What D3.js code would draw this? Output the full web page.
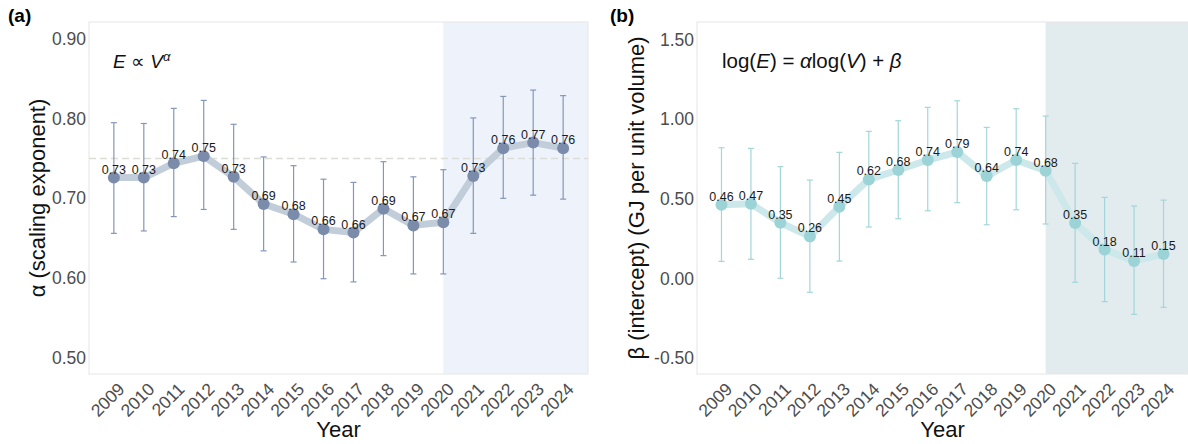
<!DOCTYPE html>
<html>
<head>
<meta charset="utf-8">
<script src="https://cdn.jsdelivr.net/npm/d3@7"></script>
<style>
  body { margin: 0; background: #fff; }
  text { font-family: "Liberation Sans", Arial, sans-serif; }
</style>
</head>
<body>
<svg id="chart" width="1188" height="444"></svg>
<script>
// years on the x axis
var years = [2009, 2010, 2011, 2012, 2013, 2014, 2015, 2016, 2017, 2018, 2019, 2020, 2021, 2022, 2023, 2024];

// (a) scaling exponent alpha with 95% interval
var alphaVals = [0.726, 0.726, 0.744, 0.753, 0.727, 0.693, 0.680, 0.661, 0.657, 0.687, 0.666, 0.670, 0.728, 0.763, 0.770, 0.763];
var alphaLo   = [0.656, 0.659, 0.677, 0.686, 0.661, 0.634, 0.620, 0.599, 0.595, 0.628, 0.605, 0.605, 0.656, 0.700, 0.704, 0.699];
var alphaHi   = [0.795, 0.794, 0.813, 0.823, 0.793, 0.752, 0.741, 0.724, 0.720, 0.746, 0.727, 0.736, 0.801, 0.828, 0.836, 0.829];
var alphaTicks = [0.5, 0.6, 0.7, 0.8, 0.9];
var alphaRef = 0.75;

// (b) intercept beta with 95% interval
var betaVals = [0.463, 0.469, 0.350, 0.264, 0.450, 0.622, 0.681, 0.744, 0.794, 0.643, 0.744, 0.677, 0.348, 0.181, 0.110, 0.153];
var betaLo   = [0.107, 0.120, 0.001, -0.087, 0.109, 0.323, 0.375, 0.425, 0.476, 0.337, 0.431, 0.342, -0.024, -0.146, -0.226, -0.182];
var betaHi   = [0.821, 0.817, 0.702, 0.618, 0.792, 0.924, 0.991, 1.075, 1.116, 0.949, 1.066, 1.020, 0.723, 0.509, 0.455, 0.492];
var betaTicks = [-0.5, 0, 0.5, 1.0, 1.5];

var shadeFrom = 2020;

var svg = d3.select("#chart");
var top_ = 22, bottom_ = 374;

function panel(cfg) {
  var g = svg.append("g").attr("class", cfg.cls);

  var x = d3.scalePoint().domain(years).range([cfg.left, cfg.right]).padding(0.83);
  var y = d3.scaleLinear().domain(cfg.ydom).range([bottom_, top_]);

  // shaded period
  g.append("rect").attr("x", x(shadeFrom)).attr("y", top_)
    .attr("width", cfg.right - x(shadeFrom)).attr("height", bottom_ - top_)
    .style("fill", cfg.shade);

  // frame
  g.append("rect").attr("x", cfg.left).attr("y", top_)
    .attr("width", cfg.right - cfg.left).attr("height", bottom_ - top_)
    .style("fill", "none").style("stroke", "#e6e6e6").style("stroke-width", 1);

  if (cfg.ref != null) {
    g.append("line").attr("x1", cfg.left).attr("x2", cfg.right)
      .attr("y1", y(cfg.ref)).attr("y2", y(cfg.ref))
      .style("stroke", "#dcddd5").style("stroke-width", 1.5).style("stroke-dasharray", "7,4");
  }

  // y axis
  var ya = g.append("g").attr("transform", "translate(" + cfg.left + ",0)")
    .call(d3.axisLeft(y).tickValues(cfg.ticks).tickSize(0).tickPadding(3)
      .tickFormat(function(d) { return d.toFixed(2); }));
  ya.select(".domain").remove();
  ya.selectAll("text").style("font-size", "17.5px").style("fill", "#4d4d4d")
    .style("font-family", "'Liberation Sans', Arial, sans-serif");

  // x axis
  var xa = g.append("g").attr("transform", "translate(0," + bottom_ + ")")
    .call(d3.axisBottom(x).tickSize(0));
  xa.select(".domain").remove();
  xa.selectAll("text").attr("x", 0).attr("y", 0).attr("dy", "0.35em")
    .attr("transform", "translate(7,12) rotate(-45)")
    .style("text-anchor", "end").style("font-size", "17.5px").style("fill", "#4d4d4d")
    .style("font-family", "'Liberation Sans', Arial, sans-serif");

  var rows = years.map(function(yr, i) {
    return { yr: yr, v: cfg.vals[i], lo: cfg.lo[i], hi: cfg.hi[i] };
  });

  // connecting line
  g.append("path").datum(rows)
    .attr("d", d3.line().x(function(d) { return x(d.yr); }).y(function(d) { return y(d.v); }))
    .style("fill", "none").style("stroke", cfg.lineCol).style("stroke-width", 7)
    .style("stroke-linejoin", "round").style("stroke-linecap", "round");

  // error bars
  var eb = g.selectAll("g.eb").data(rows).enter().append("g").attr("class", "eb")
    .style("stroke", cfg.barCol).style("stroke-width", 1.2);
  eb.append("line").attr("x1", function(d) { return x(d.yr); }).attr("x2", function(d) { return x(d.yr); })
    .attr("y1", function(d) { return y(d.lo); }).attr("y2", function(d) { return y(d.hi); });
  eb.append("line").attr("x1", function(d) { return x(d.yr) - 3; }).attr("x2", function(d) { return x(d.yr) + 3; })
    .attr("y1", function(d) { return y(d.lo); }).attr("y2", function(d) { return y(d.lo); });
  eb.append("line").attr("x1", function(d) { return x(d.yr) - 3; }).attr("x2", function(d) { return x(d.yr) + 3; })
    .attr("y1", function(d) { return y(d.hi); }).attr("y2", function(d) { return y(d.hi); });

  // points
  g.selectAll("circle.pt").data(rows).enter().append("circle").attr("class", "pt")
    .attr("cx", function(d) { return x(d.yr); }).attr("cy", function(d) { return y(d.v); })
    .attr("r", 6).style("fill", cfg.ptCol);

  // value labels
  g.selectAll("text.val").data(rows).enter().append("text").attr("class", "val")
    .attr("x", function(d) { return x(d.yr); }).attr("y", function(d) { return y(d.v) - 4; })
    .style("text-anchor", "middle").style("font-size", "12.5px").style("fill", "#1a1a1a")
    .text(function(d) { return d.v.toFixed(2); });

  // axis titles
  g.append("text").attr("transform", "translate(" + cfg.titleX + "," + ((top_ + bottom_) / 2) + ") rotate(-90)")
    .style("text-anchor", "middle").style("font-size", "22px").style("fill", "#111")
    .text(cfg.ytitle);
  g.append("text").attr("x", (cfg.left + cfg.right) / 2).attr("y", 437)
    .style("text-anchor", "middle").style("font-size", "22px").style("fill", "#111")
    .text("Year");

  // panel tag
  g.append("text").attr("x", cfg.tagX).attr("y", 22)
    .style("font-size", "19px").style("font-weight", "bold").style("fill", "#000")
    .text(cfg.tag);

  return g;
}

var ga = panel({
  cls: "panelA", left: 89, right: 588, ydom: [0.4793, 0.9215], ticks: alphaTicks, ref: alphaRef,
  vals: alphaVals, lo: alphaLo, hi: alphaHi,
  shade: "#eef3fb", lineCol: "#c2cdda", barCol: "#8497b8", ptCol: "#7b8cab",
  titleX: 45, ytitle: "α (scaling exponent)", tag: "(a)", tagX: 8
});

var gb = panel({
  cls: "panelB", left: 697, right: 1188, ydom: [-0.6005, 1.611], ticks: betaTicks, ref: null,
  vals: betaVals, lo: betaLo, hi: betaHi,
  shade: "#e2ebee", lineCol: "#cce8ea", barCol: "#a3d6da", ptCol: "#9bd3d7",
  titleX: 644, ytitle: "β (intercept) (GJ per unit volume)", tag: "(b)", tagX: 610
});

// formula annotations
var fa = ga.append("text").attr("x", 113).attr("y", 68).style("font-size", "19px").style("fill", "#111");
fa.append("tspan").style("font-style", "italic").text("E");
fa.append("tspan").text(" ∝ ");
fa.append("tspan").style("font-style", "italic").text("V");
fa.append("tspan").attr("dy", -7).style("font-size", "13px").style("font-style", "italic").text("α");

var fb = gb.append("text").attr("x", 722).attr("y", 68).style("font-size", "20.5px").style("fill", "#111");
fb.append("tspan").text("log(");
fb.append("tspan").style("font-style", "italic").text("E");
fb.append("tspan").text(") = ");
fb.append("tspan").style("font-style", "italic").text("α");
fb.append("tspan").text("log(");
fb.append("tspan").style("font-style", "italic").text("V");
fb.append("tspan").text(") + ");
fb.append("tspan").style("font-style", "italic").text("β");
</script>
</body>
</html>
